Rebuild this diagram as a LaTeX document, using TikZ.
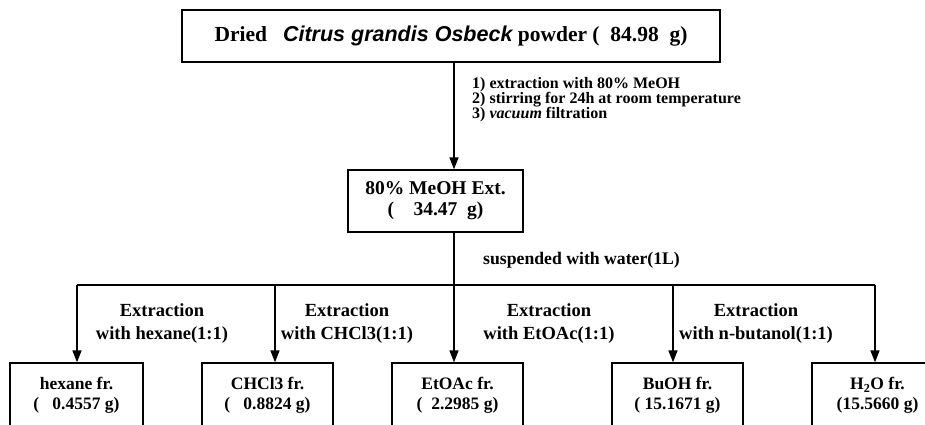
\documentclass[tikz,border=0pt]{standalone}
\usepackage{fontspec}
\setmainfont{Liberation Serif}
\setsansfont{Liberation Sans}
\usetikzlibrary{arrows.meta}

\begin{document}
\begin{tikzpicture}[x=1pt, y=-1pt,
  box/.style={draw, line width=1.3pt, inner sep=0pt, align=center, minimum width=131, minimum height=65,
    font=\fontsize{17.5}{20}\selectfont\bfseries},
  lbl/.style={inner sep=0pt, align=center, font=\fontsize{18.5}{23}\selectfont\bfseries},
  link/.style={draw, line width=1.6pt},
  drop/.style={link, -{Triangle[length=12pt, width=9pt]}},
]
\useasboundingbox (0,0) rectangle (925,424);

% boxes
\node[box, minimum width=538, minimum height=52, font=\fontsize{21.5}{22}\selectfont\bfseries] (dried) at (451,36)
  {Dried\hspace{16pt}{\sffamily\itshape Citrus grandis Osbeck} powder (\ \ 84.98\ \ g)};
\node[box, minimum width=175, minimum height=62, font=\fontsize{19.5}{21}\selectfont\bfseries] (meoh) at (435.5,201)
  {80\% MeOH Ext.\\(\quad 34.47\ \ g)};
\node[box, minimum width=133] (hex)  at (76.5,395.5)  {hexane fr.\\(\ \ \ 0.4557 g)};
\node[box] (chcl) at (267.5,395.5) {CHCl3 fr.\\(\ \ \ 0.8824 g)};
\node[box] (etoac) at (457.5,395.5) {EtOAc fr.\\(\ \ 2.2985 g)};
\node[box] (buoh) at (677.5,395.5) {BuOH fr.\\( 15.1671 g)};
\node[box] (water) at (877.5,395.5) {H\textsubscript{2}O fr.\\(15.5660 g)};

% steps
\node[anchor=west, inner sep=0pt, align=left, font=\fontsize{16}{15}\selectfont\bfseries] (steps) at (472,100)
  {1) extraction with 80\% MeOH\\2) stirring for 24h at room temperature\\3) {\itshape vacuum} filtration};
\node[lbl, anchor=west, font=\fontsize{17.7}{20}\selectfont\bfseries] (susp) at (483,260) {suspended with water(1L)};

\node[lbl] (l1) at (162,323.5) {Extraction\\with hexane(1:1)};
\node[lbl] (l2) at (347,323.5) {Extraction\\with CHCl3(1:1)};
\node[lbl] (l3) at (549,323.5) {Extraction\\with EtOAc(1:1)};
\node[lbl] (l4) at (756,323.5) {Extraction\\with n-butanol(1:1)};

% connectors
\coordinate (junc) at (454,285);
\draw[drop] (dried.south -| junc) -- (meoh.north -| junc);
\draw[link] (meoh.south -| junc) -- (junc);
\coordinate (d1) at (77,285);
\coordinate (d2) at (275,285);
\coordinate (d3) at (454,285);
\coordinate (d4) at (673,285);
\coordinate (d5) at (875,285);
\draw[link] (d1) -- (d5);
\foreach \d/\b in {d1/hex, d2/chcl, d3/etoac, d4/buoh, d5/water}
  \draw[drop] (\d) -- (\d |- \b.north);
\end{tikzpicture}
\end{document}
